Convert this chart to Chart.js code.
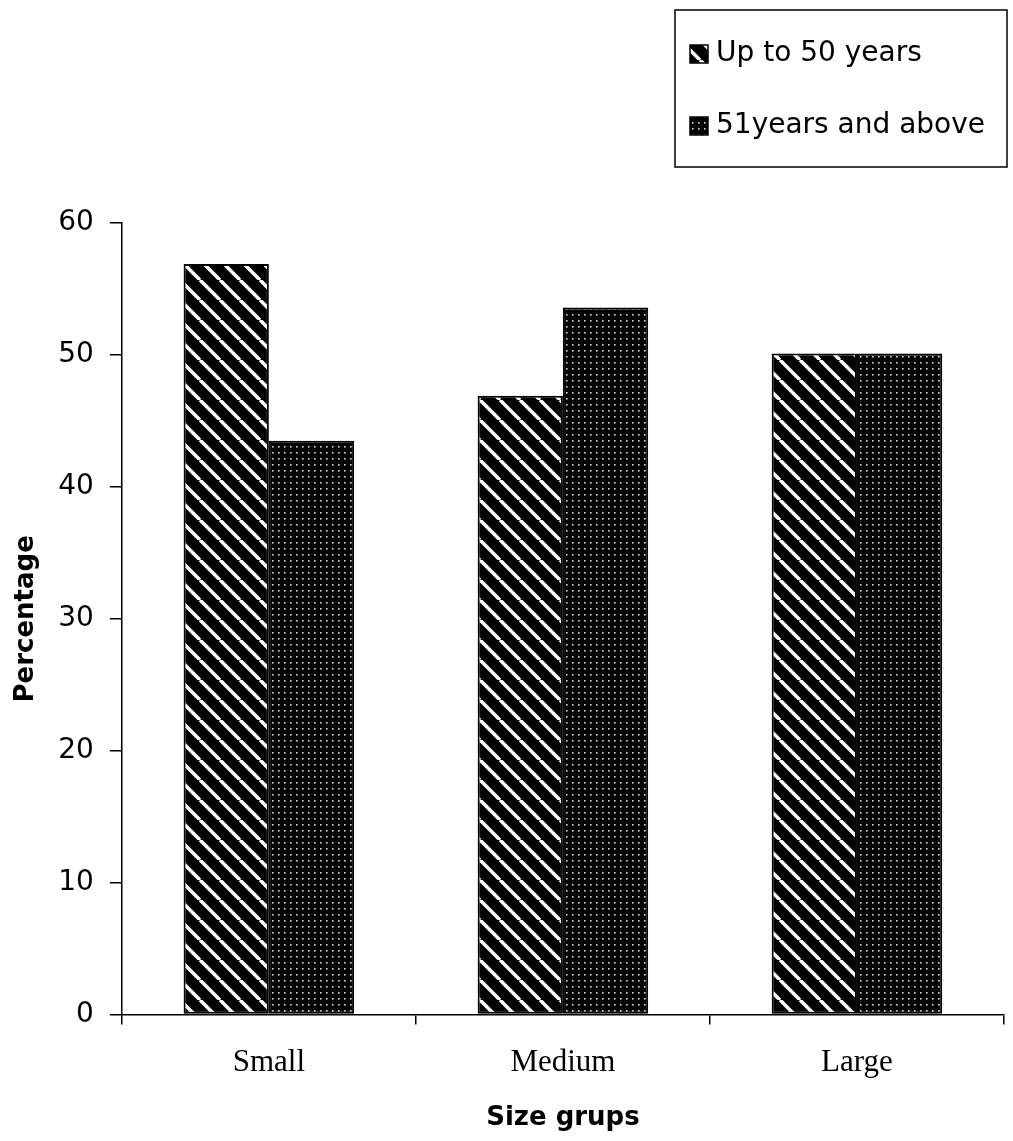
<!DOCTYPE html>
<html>
<head>
<meta charset="utf-8">
<script src="https://cdn.jsdelivr.net/npm/chart.js@4/dist/chart.umd.min.js"></script>
<style>
  html, body { margin: 0; padding: 0; background: #fff; }
  #wrap { width: 1013px; height: 1141px; }
</style>
</head>
<body>
<div id="wrap"><canvas id="ageChart" width="1013" height="1141"></canvas></div>
<script>
const groups = ['Small', 'Medium', 'Large'];
const upTo50 = [56.9, 46.9, 50.1];
const over50 = [43.5, 53.6, 50.1];
const seriesNames = ['Up to 50 years', '51years and above'];
const yTicks = [0, 10, 20, 30, 40, 50, 60];

const SANS = '"DejaVu Sans", sans-serif';
const SERIF = '"Liberation Serif", "Times New Roman", serif';

// Black tile crossed by a white diagonal (top-left to bottom-right)
function stripePattern() {
    const s = 20;
    const c = document.createElement('canvas');
    c.width = s; c.height = s;
    const g = c.getContext('2d');
    g.fillStyle = '#000';
    g.fillRect(0, 0, s, s);
    g.strokeStyle = '#fff';
    g.lineWidth = 3.5;
    [-s, 0, s].forEach(off => {
        g.beginPath();
        g.moveTo(off, 0);
        g.lineTo(off + s, s);
        g.stroke();
    });
    return g.createPattern(c, 'repeat');
}

// Dark stipple: black tile with a small light dot
function dotPattern() {
    const s = 6;
    const c = document.createElement('canvas');
    c.width = s; c.height = s;
    const g = c.getContext('2d');
    g.fillStyle = '#000';
    g.fillRect(0, 0, s, s);
    g.fillStyle = '#d8d8d8';
    g.fillRect(2, 2, 1.6, 1.6);
    return g.createPattern(c, 'repeat');
}

const fills = [stripePattern(), dotPattern()];

// Boxed legend stacked in the top right corner
const boxedLegend = {
    id: 'boxedLegend',
    afterDraw(chart) {
        const ctx = chart.ctx;
        const x = 675, y = 10, w = 332, h = 157;
        ctx.save();
        ctx.strokeStyle = '#000';
        ctx.lineWidth = 1.5;
        ctx.strokeRect(x, y, w, h);
        ctx.font = '28px ' + SANS;
        ctx.textBaseline = 'middle';
        chart.data.datasets.forEach((ds, i) => {
            const cy = 54 + i * 72;
            ctx.fillStyle = ds.backgroundColor;
            ctx.fillRect(690, cy - 9, 18, 18);
            ctx.strokeStyle = '#000';
            ctx.lineWidth = 1.5;
            ctx.strokeRect(690, cy - 9, 18, 18);
            ctx.fillStyle = '#000';
            ctx.fillText(ds.label, 716, cy);
        });
        ctx.restore();
    }
};

new Chart(document.getElementById('ageChart'), {
    type: 'bar',
    data: {
        labels: groups,
        datasets: [
            { label: seriesNames[0], data: upTo50, backgroundColor: fills[0], borderColor: '#000', borderWidth: 2, borderSkipped: false },
            { label: seriesNames[1], data: over50, backgroundColor: fills[1], borderColor: '#000', borderWidth: 2, borderSkipped: false }
        ]
    },
    options: {
        responsive: false,
        animation: false,
        layout: { padding: { top: 223, left: 11, right: 9, bottom: 7 } },
        datasets: { bar: { barPercentage: 1, categoryPercentage: 0.58 } },
        plugins: { legend: { display: false }, tooltip: { enabled: false } },
        scales: {
            x: {
                grid: { offset: true, drawOnChartArea: false, drawTicks: true, tickLength: 10, color: '#000', lineWidth: 1.5 },
                border: { display: true, color: '#000', width: 1.5 },
                ticks: { color: '#000', font: { family: SERIF, size: 31 }, padding: 20 },
                title: { display: true, text: 'Size grups', color: '#000', font: { family: SANS, size: 26, weight: 'bold' }, padding: { top: 1, bottom: 0 } }
            },
            y: {
                min: 0,
                max: 60,
                afterBuildTicks: axis => { axis.ticks = yTicks.map(v => ({ value: v })); },
                grid: { drawOnChartArea: false, drawTicks: true, tickLength: 12, color: '#000', lineWidth: 1.5 },
                border: { display: true, color: '#000', width: 1.5 },
                ticks: { color: '#000', font: { family: SANS, size: 28 }, padding: 16 },
                title: { display: true, text: 'Percentage', color: '#000', font: { family: SANS, size: 26, weight: 'bold' }, padding: { top: 0, bottom: 0 } }
            }
        }
    },
    plugins: [boxedLegend]
});
</script>
</body>
</html>
